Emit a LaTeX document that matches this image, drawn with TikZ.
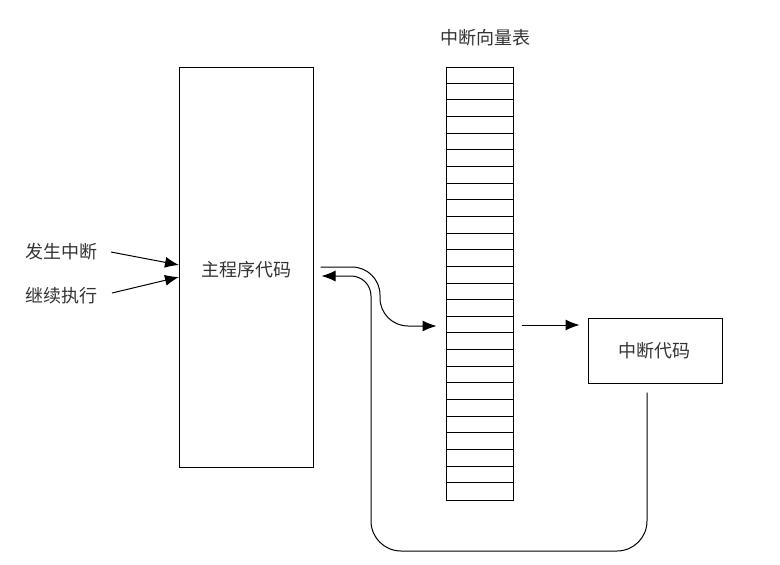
\documentclass[tikz,border=0pt]{standalone}
\usepackage{fontspec}
\newfontfamily\cjk{Noto Sans CJK SC}
\usetikzlibrary{arrows.meta}
\begin{document}
\begin{tikzpicture}[x=1pt,y=-1pt,
  lbl/.style={font=\cjk\fontsize{18}{22}\selectfont, text=black!80, inner sep=0pt},
  box/.style={draw, line width=1pt, inner sep=0pt},
  conn/.style={line width=1pt, -{Latex[length=14pt,width=11pt]}}]
\useasboundingbox (0,0) rectangle (780,565);
% main program box
\node[box, minimum width=134pt, minimum height=400pt] (main) at (246,267) {};
\node[lbl] (mainlbl) at (246,270) {主程序代码};
% vector table
\node[box, minimum width=67pt, minimum height=433pt] (vtab) at (479.5,283.5) {};
\foreach \i in {1,...,25} {
  \draw[line width=1pt] ([yshift=-\i*16.654pt]vtab.north west) -- ([yshift=-\i*16.654pt]vtab.north east);
}
\node[lbl] (vtitle) at (485,38) {中断向量表};
% interrupt code box
\node[box, minimum width=134pt, minimum height=65pt] (code) at (655,350.5) {};
\node[lbl] (codelbl) at (654,351) {中断代码};
% left labels
\node[lbl] (occur) at (61.5,252) {发生中断};
\node[lbl] (cont) at (61.5,296) {继续执行};
\coordinate (a1) at (179,265);
\coordinate (a2) at (179,277);
\draw[conn] (111,252) -- (a1);
\draw[conn] (112,293) -- (a2);
% main -> table
\coordinate (m1) at ([xshift=7pt]main.east |- 0,267);
\coordinate (t1) at ([xshift=-9pt]vtab.west |- 0,326);
\draw[conn, rounded corners=28pt] (m1) -- (380,267) -- (380,326) -- (t1);
% table -> code
\coordinate (t2) at ([xshift=8pt]vtab.east |- 0,325);
\coordinate (c2) at ([xshift=-8pt]code.west |- 0,325);
\draw[conn] (t2) -- (c2);
% return path
\coordinate (r0) at ([xshift=-8pt,yshift=-9pt]code.south);
\coordinate (m2) at ([xshift=8pt]main.east |- 0,276);
\draw[conn, rounded corners=30pt] (r0) -- (r0 |- 0,551) -- (371,551) [rounded corners=20pt] -- (371,276) -- (m2);
\end{tikzpicture}
\end{document}
